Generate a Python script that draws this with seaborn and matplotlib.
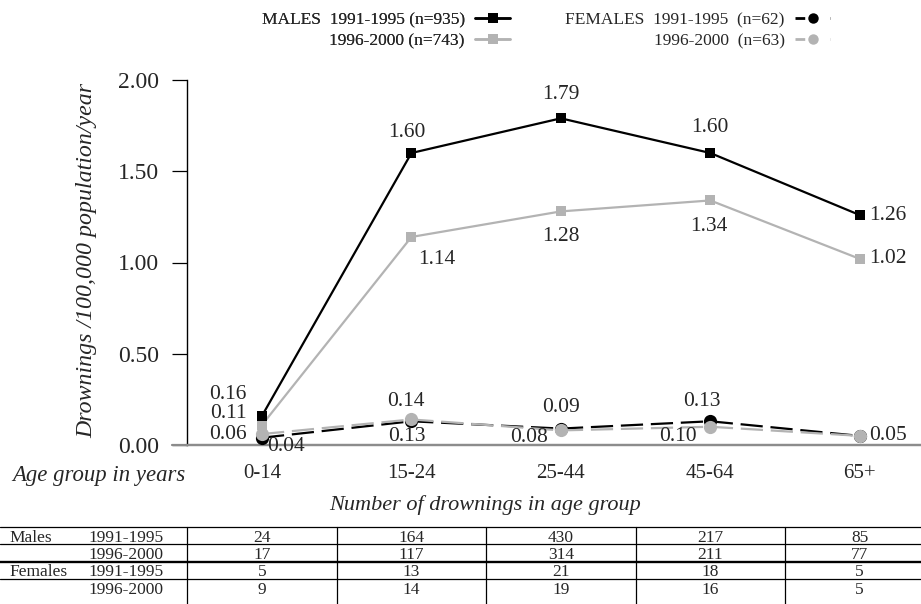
import numpy as np
import pandas as pd
import seaborn as sns
import matplotlib
matplotlib.use("Agg")
import matplotlib.pyplot as plt
from matplotlib.lines import Line2D
import matplotlib.transforms as mtransforms

# ---------------- data ----------------
age_groups = ["0-14", "15-24", "25-44", "45-64", "65+"]
males_9195 = [0.16, 1.60, 1.79, 1.60, 1.26]
males_9600 = [0.11, 1.14, 1.28, 1.34, 1.02]
females_9195 = [0.04, 0.13, 0.09, 0.13, 0.05]
females_9600 = [0.06, 0.14, 0.08, 0.10, 0.05]

count_m_9195 = [24, 164, 430, 217, 85]
count_m_9600 = [17, 117, 314, 211, 77]
count_f_9195 = [5, 13, 21, 18, 5]
count_f_9600 = [9, 14, 19, 16, 5]

yticks = [0.0, 0.5, 1.0, 1.5, 2.0]

# ---------------- style ----------------
sns.set_theme(style="white")
plt.rcParams['font.family'] = ['Liberation Serif', 'DejaVu Serif']

BLACK = "#000000"
GRAY = "#b3b3b3"
DASH = (0, (10, 3.5))

fig = plt.figure(figsize=(9.21, 6.04), dpi=100)
ax = fig.add_axes([187/921, 1-445/604, 734/921, 365/604])

x = np.arange(len(age_groups))
df = pd.DataFrame({
    "x": np.tile(x, 4),
    "rate": males_9195 + males_9600 + females_9195 + females_9600,
    "series": (["m91"] * 5 + ["m96"] * 5 + ["f91"] * 5 + ["f96"] * 5),
})

styles = {
    "m96": dict(color=GRAY, marker="s", ls="-", ms=7.5, z=2),
    "m91": dict(color=BLACK, marker="s", ls="-", ms=7.5, z=3),
    "f91": dict(color=BLACK, marker="o", ls=DASH, ms=9.5, z=4),
    "f96": dict(color=GRAY, marker="o", ls=DASH, ms=9.5, z=5),
}
for key in ["m96", "m91", "f91", "f96"]:
    st = styles[key]
    sub = df[df.series == key]
    sns.lineplot(data=sub, x="x", y="rate", ax=ax, color=st["color"],
                 marker=st["marker"], markersize=st["ms"], markeredgewidth=0,
                 linewidth=1.6, linestyle=st["ls"], zorder=st["z"],
                 legend=False, estimator=None)

ax.set_xlim(-0.502, 4.41)
ax.set_ylim(0, 2.0)
ax.set_yticks(yticks)
ax.set_yticklabels([f"{v:.2f}" for v in yticks], fontsize=17)
ax.set_xticks(x)
ax.set_xticklabels(age_groups, fontsize=15)
ax.tick_params(axis="x", length=0, pad=14)
ax.tick_params(axis="y", length=11, width=0.9, color="black", pad=9, left=True)
ax.set_xlabel("")
ax.set_ylabel("Drownings /100,000 population/year", fontsize=17.2,
              style="italic")
ax.yaxis.set_label_coords((97-187)/734, 0.505)
for s in ["top", "right"]:
    ax.spines[s].set_visible(False)
ax.spines["left"].set_color("black")
ax.spines["left"].set_linewidth(1.0)
ax.spines["bottom"].set_color("#8c8c8c")
ax.spines["bottom"].set_linewidth(1.6)
ax.add_line(Line2D([-15/734, 1.0], [0, 0], transform=ax.transAxes,
                   color="#8c8c8c", lw=1.6, clip_on=False, zorder=1))

# ---------------- data labels ----------------
LFS = 15.5
def lab(xi, yi, txt, dx, dy, ha="center", va="center"):
    ax.annotate(txt, (xi, yi), xytext=(dx, dy), textcoords="offset points",
                ha=ha, va=va, fontsize=LFS, zorder=10)

fmt = lambda v: f"{v:.2f}"
# males 1991-1995
lab(0, males_9195[0], fmt(males_9195[0]), -11, 15, ha="right")
lab(1, males_9195[1], fmt(males_9195[1]), -3, 15)
lab(2, males_9195[2], fmt(males_9195[2]), 0, 17)
lab(3, males_9195[3], fmt(males_9195[3]), 0, 18)
lab(4, males_9195[4], fmt(males_9195[4]), 7, 0, ha="left")
# males 1996-2000
lab(0, males_9600[0], fmt(males_9600[0]), -11, 8, ha="right")
lab(1, males_9600[1], fmt(males_9600[1]), 18, -16)
lab(2, males_9600[2], fmt(males_9600[2]), 0, -18)
lab(3, males_9600[3], fmt(males_9600[3]), -1, -19)
lab(4, males_9600[4], fmt(males_9600[4]), 7, 0, ha="left")
# females 1991-1995
lab(0, females_9195[0], fmt(females_9195[0]), 4, -6, ha="left")
lab(1, females_9195[1], fmt(females_9195[1]), -3, -11)
lab(2, females_9195[2], fmt(females_9195[2]), 0, 15)
lab(3, females_9195[3], fmt(females_9195[3]), -6, 14)
lab(4, females_9195[4], fmt(females_9195[4]), 7, 0, ha="left")
# females 1996-2000
lab(0, females_9600[0], fmt(females_9600[0]), -11, 0, ha="right")
lab(1, females_9600[1], fmt(females_9600[1]), -4, 13)
lab(2, females_9600[2], fmt(females_9600[2]), -23, -5)
lab(3, females_9600[3], fmt(females_9600[3]), -23, -7)

# ---------------- axis texts ----------------
fig.text(12/921, 1-475/604, "Age group in years", fontsize=16.4, style="italic",
         ha="left", va="center")
fig.text(485/921, 1-505/604, "Number of drownings in age group", fontsize=16,
         style="italic", ha="center", va="center")

# ---------------- legends ----------------
lfs = 12.5
h_m91 = Line2D([], [], color=BLACK, marker="s", ms=7, mew=0, lw=1.8)
h_m96 = Line2D([], [], color=GRAY, marker="s", ms=7, mew=0, lw=1.8)
h_f91 = Line2D([], [], color=BLACK, marker="o", ms=7.5, mew=0, lw=2.0, ls=(0, (3.5, 3.5, 0.5, 5)))
h_f96 = Line2D([], [], color=GRAY, marker="o", ms=7.5, mew=0, lw=2.0, ls=(0, (3.5, 3.5, 0.5, 5)))
common = dict(loc="upper right", markerfirst=False, frameon=False, fontsize=lfs,
              handlelength=2.0, handletextpad=0.6, labelspacing=0.3,
              borderpad=0, borderaxespad=0)
leg1 = fig.legend([h_m91, h_m96], ["MALES  1991-1995 (n=935)", "1996-2000 (n=743)"],
                  bbox_to_anchor=(510/921, 1-12/604), **common)
leg2 = fig.legend([h_f91, h_f96], ["FEMALES  1991-1995  (n=62)", "1996-2000  (n=63)"],
                  bbox_to_anchor=(830/921, 1-12/604), **common)
fig.add_artist(leg1)

# ---------------- table ----------------
tfs = 12.5
blend = mtransforms.blended_transform_factory(ax.transData, fig.transFigure)
row_base = [541.5, 559, 576.5, 594]
rows = [("Males", "1991-1995", count_m_9195),
        ("", "1996-2000", count_m_9600),
        ("Females", "1991-1995", count_f_9195),
        ("", "1996-2000", count_f_9600)]
for (grp, period, vals), yy in zip(rows, row_base):
    yf = 1 - yy/604
    if grp:
        fig.text(9/921, yf, grp, fontsize=tfs, ha="left", va="baseline")
    fig.text(88/921, yf, period, fontsize=tfs, ha="left", va="baseline")
    for xi, v in zip(x, vals):
        fig.text(xi, yf, str(v), transform=blend, fontsize=tfs,
                 ha="center", va="baseline")

hlines = [(527, 0.9), (544, 0.9), (561.5, 1.7), (579, 0.9)]
for yy, lw in hlines:
    fig.add_artist(Line2D([0, 1], [1-yy/604, 1-yy/604], transform=fig.transFigure,
                          color="black", lw=lw))
for xb in [-0.5, 0.5, 1.5, 2.5, 3.5]:
    fig.add_artist(Line2D([xb, xb], [1-527/604, 0], transform=blend,
                          color="black", lw=0.9))

fig.savefig("out.png", dpi=100)
